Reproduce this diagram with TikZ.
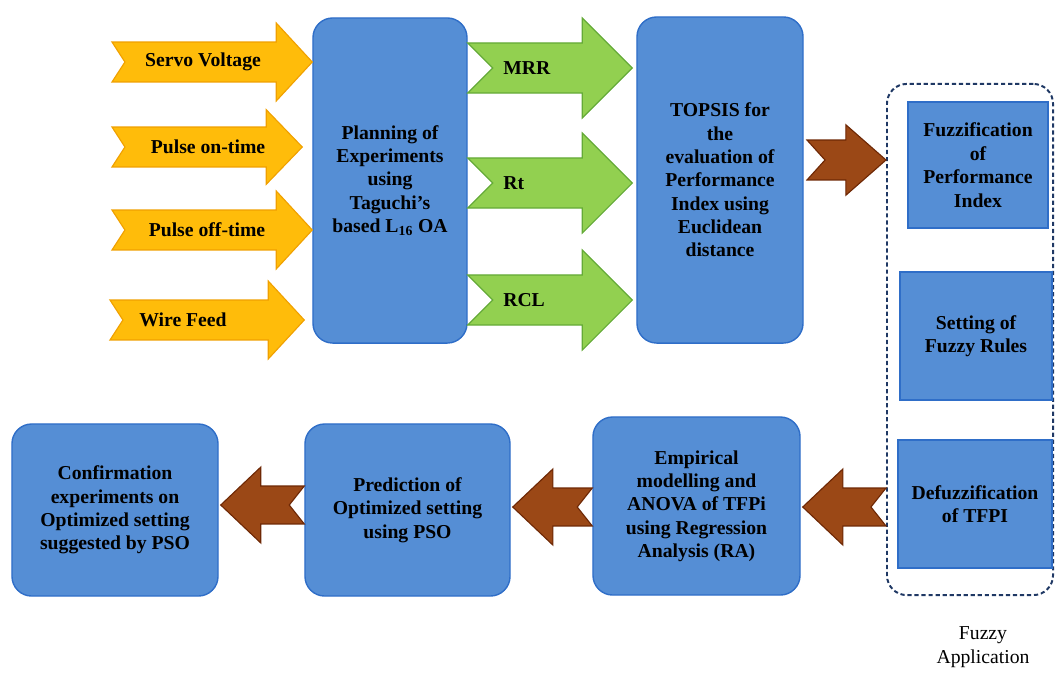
\documentclass[tikz,border=0pt]{standalone}
\usepackage{fontspec}
\setmainfont{Liberation Serif}
\usetikzlibrary{calc, positioning}

\definecolor{boxblue}{RGB}{85,142,213}
\definecolor{boxedge}{RGB}{47,110,200}
\definecolor{inorange}{RGB}{255,188,10}
\definecolor{inorangeedge}{RGB}{240,160,0}
\definecolor{outgreen}{RGB}{146,208,80}
\definecolor{outgreenedge}{RGB}{100,170,55}
\definecolor{flowbrown}{RGB}{155,72,22}
\definecolor{flowbrownedge}{RGB}{110,40,5}
\definecolor{framenavy}{RGB}{31,56,100}

% block arrow with notched tail: [style]{tail}{tip}{body half}{head half}{head length}{notch}
\newcommand{\fatarrow}[7][]{%
  \draw[#1] let \p1=#2, \p2=#3, \n1={sign(\x2-\x1)} in
    (\x1,{\y1+#4}) -- ({\x2-\n1*#6},{\y1+#4}) -- ({\x2-\n1*#6},{\y1+#5})
    -- (\x2,\y1) -- ({\x2-\n1*#6},{\y1-#5}) -- ({\x2-\n1*#6},{\y1-#4})
    -- (\x1,{\y1-#4}) -- ({\x1+\n1*#7},\y1) -- cycle;}

\begin{document}
\begin{tikzpicture}[
    x=0.025cm, y=-0.025cm,
    % Define styles
    process/.style={rectangle, rounded corners=14pt, draw=boxedge, line width=1pt, fill=boxblue, align=center, font=\bfseries\fontsize{14}{16.6}\selectfont},
    fuzzystep/.style={rectangle, draw=boxedge, line width=1pt, fill=boxblue, align=center, font=\bfseries\fontsize{14}{16.8}\selectfont},
    fuzzyframe/.style={rectangle, rounded corners=14pt, draw=framenavy, line width=1.4pt, dash pattern=on 3pt off 2pt},
    inlabel/.style={font=\bfseries\fontsize{14}{16}\selectfont, inner sep=0pt},
    orange_arrow/.style={fill=inorange, draw=inorangeedge, line width=0.8pt, line join=miter},
    green_arrow/.style={fill=outgreen, draw=outgreenedge, line width=0.8pt, line join=miter},
    brown_arrow/.style={fill=flowbrown, draw=flowbrownedge, line width=0.8pt, line join=miter}
]
\useasboundingbox (0,0) rectangle (1056,673);

% Main process boxes
\node[process, minimum width=3.85cm, minimum height=8.125cm] (plan) at (390,180.5) {Planning of\\Experiments\\using\\Taguchi's\\based L\textsubscript{16} OA};
\node[process, minimum width=4.15cm, minimum height=8.15cm] (topsis) at (720,180) {TOPSIS for\\the\\evaluation of\\Performance\\Index using\\Euclidean\\distance};
\node[process, minimum width=5.175cm, minimum height=4.45cm] (empirical) at (696.5,506) {Empirical\\modelling and\\ANOVA of TFPi\\using Regression\\Analysis (RA)};
\node[process, minimum width=5.125cm, minimum height=4.3cm] (predict) at (407.5,510) {Prediction of\\Optimized setting\\using PSO};
\node[process, minimum width=5.15cm, minimum height=4.3cm] (confirm) at (115,510) {Confirmation\\experiments on\\Optimized setting\\suggested by PSO};

% Fuzzy application
\node[fuzzyframe, minimum width=4.15cm, minimum height=12.775cm] (frame) at (970,339.5) {};
\node[fuzzystep, minimum width=3.5cm, minimum height=3.15cm] (fuzzify) at (978,165) {Fuzzification\\of\\Performance\\Index};
\node[fuzzystep, minimum width=3.8cm, minimum height=3.2cm] (rules) at (976,336) {Setting of\\Fuzzy Rules};
\node[fuzzystep, minimum width=3.85cm, minimum height=3.2cm] (defuzz) at (975,504) {Defuzzification\\of TFPI};
\node[align=center, font=\fontsize{14}{17}\selectfont] (applabel) at (983,647) {Fuzzy\\Application};

% Arrow tails
\coordinate (sv) at (112,62);
\coordinate (pon) at (112,147);
\coordinate (poff) at (112,230);
\coordinate (wf) at (110,320);
\coordinate (mrr) at (plan.east |- 0,68);
\coordinate (rt) at (plan.east |- 0,183);
\coordinate (rcl) at (plan.east |- 0,300);
\coordinate (topsisout) at (807,160);

% Input parameters
\fatarrow[orange_arrow]{(sv)}{(plan.west |- sv)}{14.2pt}{27.7pt}{25.6pt}{9.2pt}
\fatarrow[orange_arrow]{(pon)}{($(plan.west |- pon)+(-10,0)$)}{14.2pt}{26.5pt}{25.6pt}{9.2pt}
\fatarrow[orange_arrow]{(poff)}{(plan.west |- poff)}{14.2pt}{27.7pt}{25.6pt}{9.2pt}
\fatarrow[orange_arrow]{(wf)}{($(plan.west |- wf)+(-8,0)$)}{14.2pt}{27.7pt}{25.6pt}{9.2pt}

\node[inlabel] (svlabel) at (203,62) {Servo Voltage};
\node[inlabel] (ponlabel) at (208,147) {Pulse on-time};
\node[inlabel] (pofflabel) at (207,230) {Pulse off-time};
\node[inlabel] (wflabel) at (183,320) {Wire Feed};

% Responses
\fatarrow[green_arrow]{(mrr)}{($(topsis.west |- mrr)+(-4,0)$)}{17.8pt}{35.6pt}{35.6pt}{17.8pt}
\fatarrow[green_arrow]{(rt)}{($(topsis.west |- rt)+(-4,0)$)}{17.8pt}{35.6pt}{35.6pt}{17.8pt}
\fatarrow[green_arrow]{(rcl)}{($(topsis.west |- rcl)+(-4,0)$)}{17.8pt}{35.6pt}{35.6pt}{17.8pt}

\node[inlabel, anchor=west] (mrrlabel) at (503,68) {MRR};
\node[inlabel, anchor=west] (rtlabel) at (503,183) {Rt};
\node[inlabel, anchor=west] (rcllabel) at (503,300) {RCL};

% Flow between stages
\fatarrow[brown_arrow]{(topsisout)}{(frame.west |- topsisout)}{14.2pt}{25pt}{28.5pt}{12.8pt}
\fatarrow[brown_arrow]{(frame.west |- 0,507)}{($(empirical.east |- 0,507)+(2,0)$)}{13.5pt}{27pt}{28.5pt}{10.7pt}
\fatarrow[brown_arrow]{(empirical.west |- 0,507)}{($(predict.east |- 0,507)+(2,0)$)}{13.5pt}{27pt}{28.5pt}{10.7pt}
\fatarrow[brown_arrow]{(predict.west |- 0,505)}{($(confirm.east |- 0,505)+(2,0)$)}{13.5pt}{27pt}{28.5pt}{10.7pt}

\end{tikzpicture}
\end{document}
